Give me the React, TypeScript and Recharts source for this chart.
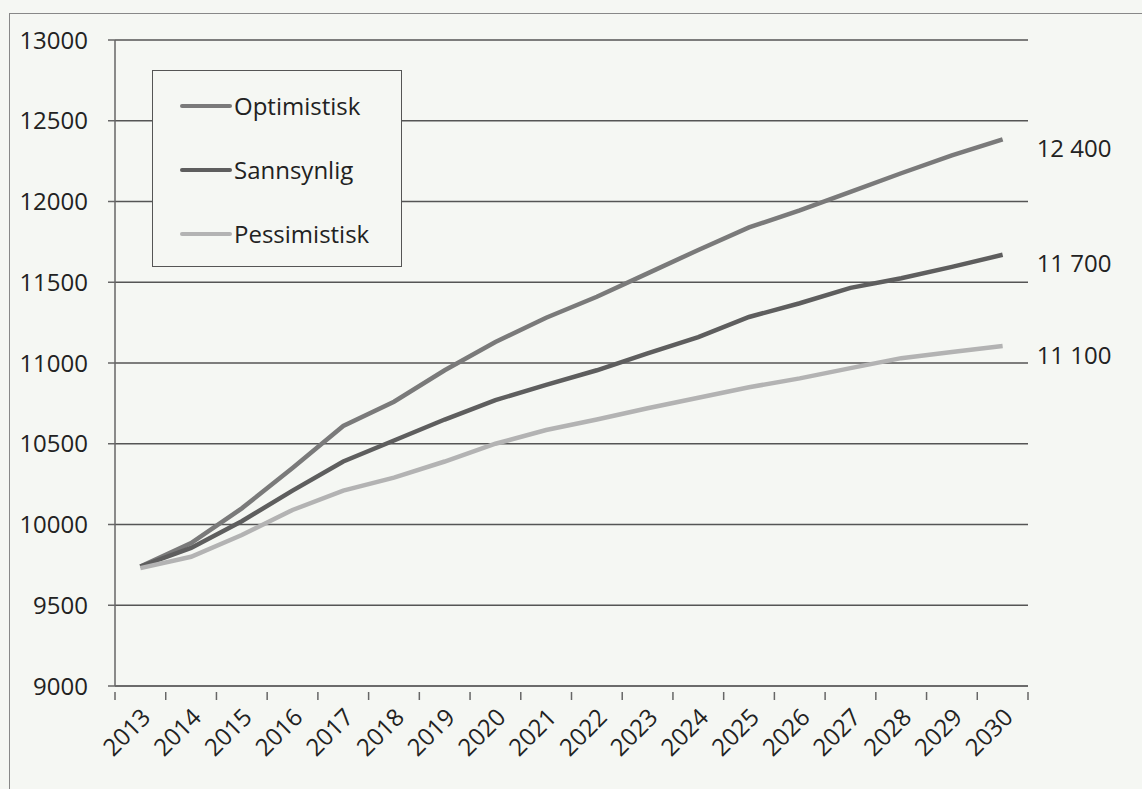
import React from "react";
import { LineChart, Line, XAxis, YAxis, CartesianGrid, LabelList } from "recharts";

const years = ["2013","2014","2015","2016","2017","2018","2019","2020","2021","2022","2023","2024","2025","2026","2027","2028","2029","2030"];
const optimistisk = [9740, 9885, 10100, 10350, 10610, 10760, 10955, 11130, 11280, 11410, 11555, 11700, 11840, 11945, 12060, 12175, 12285, 12385];
const sannsynlig = [9740, 9855, 10020, 10210, 10390, 10520, 10650, 10770, 10865, 10955, 11060, 11160, 11285, 11370, 11465, 11525, 11595, 11670];
const pessimistisk = [9730, 9800, 9935, 10090, 10210, 10290, 10390, 10500, 10585, 10650, 10720, 10785, 10850, 10905, 10968, 11030, 11068, 11105];
const yTicks = [9000, 9500, 10000, 10500, 11000, 11500, 12000, 12500, 13000];
const seriesNames = ["Optimistisk", "Sannsynlig", "Pessimistisk"];
const endLabels = ["12 400", "11 700", "11 100"];

const data = years.map((y, i) => ({
  year: y,
  Optimistisk: optimistisk[i],
  Sannsynlig: sannsynlig[i],
  Pessimistisk: pessimistisk[i],
}));

const BG = "#f5f7f3";
const FONT = "'Open Sans', 'Noto Sans', sans-serif";
const FS = 24;
const TEXT = "#222";
const colors: Record<string, string> = {
  Optimistisk: "#7a7a7a",
  Sannsynlig: "#5e5e5e",
  Pessimistisk: "#b3b3b3",
};

const PLOT_LEFT = 115;
const PLOT_RIGHT = 1028;
const HALF_BAND = (PLOT_RIGHT - PLOT_LEFT) / years.length / 2;

const XTick = (props: any) => {
  const { x, y, payload, index } = props;
  const axisY = y - 10;
  const tx = x + 5;
  const ty = axisY + 20;
  return (
    <g>
      <line x1={x - HALF_BAND} x2={x - HALF_BAND} y1={axisY} y2={axisY + 8} stroke="#666" strokeWidth={1.5} />
      {index === years.length - 1 && (
        <line x1={x + HALF_BAND} x2={x + HALF_BAND} y1={axisY} y2={axisY + 8} stroke="#666" strokeWidth={1.5} />
      )}
      <text
        x={tx}
        y={ty}
        transform={`rotate(-45, ${tx}, ${ty})`}
        textAnchor="end"
        dominantBaseline="central"
        fontSize={FS}
        fontFamily={FONT}
        fill={TEXT}
      >
        {payload.value}
      </text>
    </g>
  );
};

const LegendBox = () => (
  <div
    style={{
      position: "absolute",
      left: 152,
      top: 70,
      width: 250,
      height: 197,
      boxSizing: "border-box",
      border: "1.5px solid #555",
      background: BG,
      paddingTop: 3,
      fontFamily: FONT,
    }}
  >
    {seriesNames.map((n) => (
      <div key={n} style={{ display: "flex", alignItems: "center", height: 64 }}>
        <div style={{ width: 52, height: 4, background: colors[n], marginLeft: 27, borderRadius: 2 }} />
        <span style={{ fontSize: FS, color: TEXT, marginLeft: 2, lineHeight: "26px" }}>{n}</span>
      </div>
    ))}
  </div>
);

const makeEndLabel = (label: string) => (props: any) => {
  const { x, y, index } = props;
  if (index !== years.length - 1) return null;
  return (
    <text x={x + 34} y={y + 8} dominantBaseline="central" fontSize={FS} fontFamily={FONT} fill={TEXT}>
      {label}
    </text>
  );
};

export default function App() {
  return (
    <div style={{ position: "fixed", left: 0, top: 0, width: 1142, height: 789, background: BG, overflow: "hidden" }}>
      <div
        style={{
          position: "absolute",
          left: 9,
          top: 13,
          width: 1300,
          height: 1000,
          border: "1.5px solid #888",
        }}
      />
      <div style={{ position: "absolute", left: 0, top: 0 }}>
        <LineChart width={1142} height={789} data={data} margin={{ top: 40, right: 1142 - PLOT_RIGHT, left: 0, bottom: 13 }}>
          <CartesianGrid horizontal vertical={false} stroke="#555" strokeWidth={1.5} />
          <XAxis
            dataKey="year"
            height={90}
            padding={{ left: HALF_BAND, right: HALF_BAND }}
            tickLine={false}
            axisLine={{ stroke: "#666", strokeWidth: 1.5 }}
            tick={<XTick />}
            interval={0}
            tickMargin={10}
          />
          <YAxis
            width={PLOT_LEFT}
            domain={[9000, 13000]}
            ticks={yTicks}
            interval={0}
            tickSize={7}
            tickMargin={20}
            tickLine={{ stroke: "#666", strokeWidth: 1.5 }}
            axisLine={{ stroke: "#666", strokeWidth: 1.5 }}
            tick={{ fontSize: FS, fontFamily: FONT, fill: TEXT }}
          />
          {seriesNames.map((n, i) => (
            <Line
              key={n}
              type="linear"
              dataKey={n}
              stroke={colors[n]}
              strokeWidth={4.5}
              dot={false}
              activeDot={false}
              isAnimationActive={false}
            >
              <LabelList dataKey={n} content={makeEndLabel(endLabels[i])} />
            </Line>
          ))}
        </LineChart>
      </div>
      <LegendBox />
    </div>
  );
}
